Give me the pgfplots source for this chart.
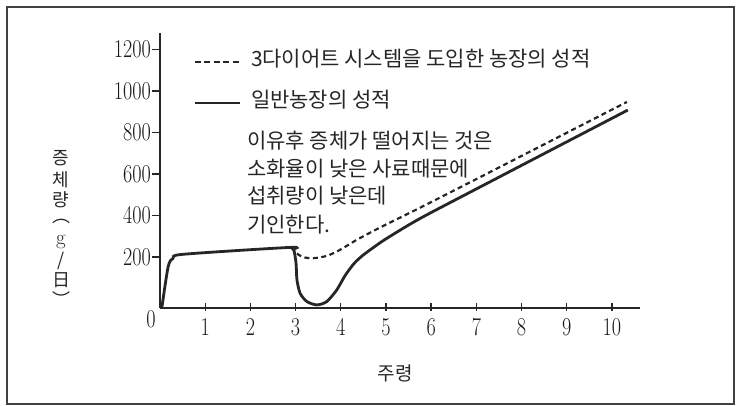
\documentclass[border=0pt]{standalone}
\usepackage{fontspec}
\usepackage{graphicx}
\usepackage{pgfplots}
\pgfplotsset{compat=1.18}
\newfontfamily\kr{Noto Sans CJK KR}
\begin{document}
\begin{tikzpicture}[x=1pt,y=1pt]
\useasboundingbox (0,0) rectangle (741,406);
\draw[line width=1.2pt, black!75] (7,2) rectangle (734,399);
\begin{axis}[
  at={(160pt,98pt)}, anchor=south west,
  scale only axis, width=480pt, height=275pt,
  xmin=0, xmax=10.62, ymin=-46, ymax=1279.5,
  axis lines=left, axis line style={-, line width=1.6pt, black!85},
  xtick={1,...,10}, ytick={200,400,...,1200},
  extra x ticks={0}, extra x tick style={xticklabel style={xshift=-9pt}, major tick length=0pt},
  tick align=outside, major tick length=8pt,
  tick style={line width=1.4pt, black!85},
  x tick style={yshift=5pt},
  xticklabel={\scalebox{0.96}[1.22]{\pgfmathprintnumber[assume math mode=true,1000 sep={}]{\tick}}},
  yticklabel={\scalebox{0.96}[1.22]{\pgfmathprintnumber[assume math mode=true,1000 sep={}]{\tick}}},
  tick label style={font=\fontsize{21}{24}\selectfont, text=black!90},
  yticklabel style={inner sep=1pt},
  xticklabel style={inner sep=0pt, yshift=-2pt},
  legend style={draw=none, fill=none, at={(0.06875,0.82)}, anchor=west,
    font=\kr\fontsize{21}{24}\selectfont, row sep=23pt, inner sep=0pt,
    nodes={text height=14pt, text depth=4pt, inner sep=0pt, text=black!85},
    /tikz/every odd column/.append style={column sep=10pt}},
  legend cell align=left,
  legend image code/.code={\draw[#1] (0pt,0pt) -- (45pt,0pt);},
]
\addplot[black!85, line width=2.2pt, dash pattern=on 5pt off 3.5pt, smooth, tension=0.45,
  forget plot] coordinates {
 (2.9,246) (3.02,218) (3.17,199) (3.39,194) (3.69,205) (3.98,234) (4.35,282)
 (4.87,342) (5.75,437) (7.04,580) (10.33,947)};
\addplot[black!85, line width=2.8pt, smooth, tension=0.45, forget plot] coordinates {
 (0.04,-46) (0.18,153) (0.29,194) (0.52,213) (2.88,246) (2.96,234) (3.01,170)
 (3.03,90) (3.10,25) (3.25,-15) (3.47,-31) (3.69,-15) (3.91,41) (4.1,112)
 (4.3,170) (4.5,210) (4.75,250) (5.02,290) (5.75,385) (7.08,537) (10.35,908)};
\addlegendimage{black!85, line width=1.6pt, dash pattern=on 6pt off 3.5pt}
\addlegendentry{3다이어트 시스템을 도입한 농장의 성적}
\addlegendimage{black!85, line width=2.8pt}
\addlegendentry{일반농장의 성적}
\end{axis}
\begin{scope}[every node/.style={font=\kr\fontsize{21}{24}\selectfont, text=black!85, anchor=base west, inner sep=0pt}]
\node at (247,406-149) {이유후 증체가 떨어지는 것은};
\node at (247,406-177) {소화율이 낮은 사료때문에};
\node at (247,406-204) {섭취량이 낮은데};
\node at (247,406-233) {기인한다.};
\end{scope}
\begin{scope}[every node/.style={font=\kr\fontsize{18}{20}\selectfont, text=black!85, inner sep=0pt}]
\node at (61,406-158) {증};
\node at (61,406-179.5) {체};
\node at (61,406-200) {량};
\node at (61,406-222) {︵};
\node[font=\fontsize{21}{22}\selectfont] at (61,406-242) {g};
\node at (61,406-261) {/};
\node at (61,406-280) {日};
\node at (61,406-299) {︶};
\node[font=\kr\fontsize{19}{20}\selectfont] at (395,406-373) {주령};
\end{scope}
\end{tikzpicture}
\end{document}
